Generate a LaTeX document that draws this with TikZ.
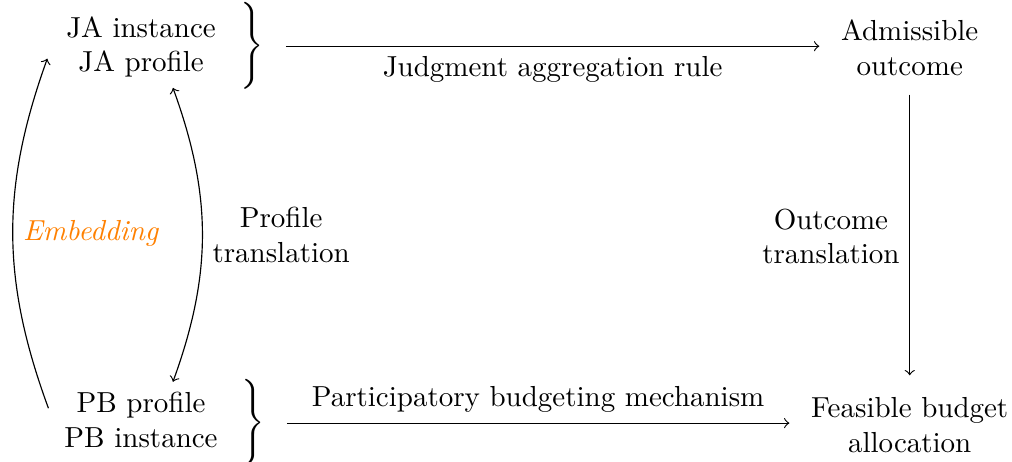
\documentclass[tikz,border=0pt]{standalone}
\usepackage{amsmath}
\usepackage{tikz}

\begin{document}
\begin{tikzpicture}
        \useasboundingbox (0, 0) rectangle (12.27, -5.6);

        \node [align=center] (ja) at (1.71, -.57) {JA instance\\JA profile};
        \node (jabrace) at (3.04, -.56) {$\left.\vcenter{\hbox{\rule{0pt}{27pt}}}\right\}$};
        \node [align=center] (adm) at (11.03, -.58) {Admissible\\outcome};

        \node [align=center] (pb) at (1.71, -5.09) {PB profile\\PB instance};
        \node (pbbrace) at (3.05, -5.13) {$\left.\vcenter{\hbox{\rule{0pt}{27pt}}}\right\}$};
        \node [align=center] (feas) at (11.03, -5.15) {Feasible budget\\allocation};

        \draw [->, shorten <=4pt, shorten >=4pt] (jabrace.east) -- (jabrace.east -| adm.west)
            node [midway, below] {Judgment aggregation rule};
        \draw [->, shorten <=4pt, shorten >=4pt] (pbbrace.east) -- (pbbrace.east -| feas.west)
            node [midway, above] {Participatory budgeting mechanism};

        \draw [->, shorten <=3pt, shorten >=4pt] (adm.south) -- (feas.north)
            node [midway, left, align=center] {Outcome\\translation};

        \draw [<->] ([xshift=11pt]ja.south) to [bend left=20]
            node [midway, right, align=center] {Profile\\translation} ([xshift=11pt]pb.north);
        \draw [->] ([xshift=-2pt, yshift=4pt]pb.west) to [bend left=20]
            node [midway, right, orange] {\textit{Embedding}} ([xshift=-3pt, yshift=-4pt]ja.west);
    \end{tikzpicture}
\end{document}
